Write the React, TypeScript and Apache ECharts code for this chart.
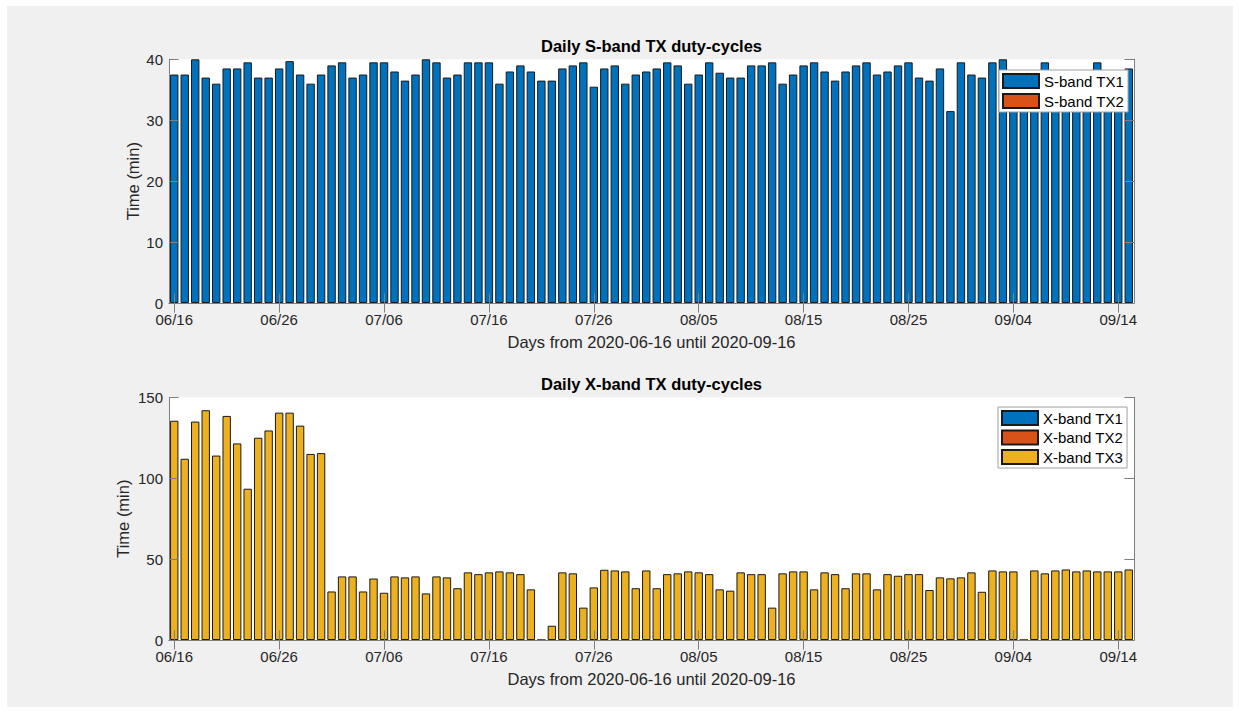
import React, { useEffect, useRef } from "react";
import * as echarts from "echarts";

// Day labels (2020-06-16 .. 2020-09-15, one bar per day)
const startDate = new Date(Date.UTC(2020, 5, 16));
const dayCount = 92;
const dayLabels: string[] = [];
for (let i = 0; i < dayCount; i++) {
  const d = new Date(startDate.getTime() + i * 86400000);
  const mm = String(d.getUTCMonth() + 1).padStart(2, "0");
  const dd = String(d.getUTCDate()).padStart(2, "0");
  dayLabels.push(`${mm}/${dd}`);
}

// S-band TX duty-cycles (min)
const sBandTx1 = [
  37.5, 37.5, 40, 37, 36, 38.5, 38.5, 39.5, 37, 37,
  38.5, 39.7, 37.5, 36, 37.5, 39, 39.5, 37, 37.5, 39.5,
  39.5, 38, 36.5, 37.5, 40, 39.5, 37, 37.5, 39.5, 39.5,
  39.5, 36, 38, 39, 38, 36.5, 36.5, 38.5, 39, 39.5,
  35.5, 38.5, 39, 36, 37.5, 38, 38.5, 39.5, 39, 36,
  37.5, 39.5, 37.8, 37, 37, 39, 39, 39.5, 36, 37.5,
  39, 39.5, 38, 36.5, 38, 39, 39.5, 37.5, 38, 39,
  39.5, 37, 36.5, 38.5, 31.5, 39.5, 37.5, 37, 39.5, 40,
  37.5, 37, 38, 39.5, 31.6, 37, 38, 37.5, 39.5, 37,
  38, 38.5,
];
const sBandTx2: number[] = [];

// X-band TX duty-cycles (min)
const xBandTx1: number[] = [];
const xBandTx2: number[] = [];
const xBandTx3 = [
  135.5, 112, 135, 142, 114, 138.5, 121.5, 93.5, 125, 129.5,
  140.5, 140.5, 132.5, 115, 115.5, 30, 39.3, 39.3, 30, 38,
  29.2, 39.3, 38.7, 39.3, 28.8, 39.3, 38.7, 32, 41.8, 40.7,
  41.8, 42.4, 41.8, 40.7, 31.3, 0, 8.8, 41.8, 41.2, 20,
  32.5, 43.4, 43, 42.4, 32, 43, 32, 40.7, 41.2, 42.4,
  41.8, 40.7, 31.3, 30.5, 41.8, 40.7, 40.7, 20, 41.2, 42.4,
  42.4, 31.3, 41.8, 40.7, 32, 41.2, 41.2, 31.3, 40.7, 39.7,
  40.7, 40.7, 30.9, 38.7, 38.1, 38.7, 41.8, 29.8, 43, 42.4,
  42.4, 0, 43, 41.2, 43, 43.6, 42.4, 43, 42.4, 42.4,
  42.4, 43.6,
];

const sBandNames = ["S-band TX1", "S-band TX2"];
const xBandNames = ["X-band TX1", "X-band TX2", "X-band TX3"];
const colors = ["#0072BD", "#D95319", "#EDB120"];

const FONT = '"Liberation Sans", Arial, Helvetica, sans-serif';
const AX = "#7f7f7f";
const TXT = "#262626";
const every10 = (i: number) => i % 10 === 0;

function xAxes(gridIndex: number) {
  return [
    {
      gridIndex,
      type: "category",
      data: dayLabels,
      position: "bottom",
      boundaryGap: true,
      z: 5,
      axisLine: { show: true, lineStyle: { color: AX, width: 1 } },
      axisTick: {
        show: true,
        inside: true,
        length: 9.6,
        alignWithLabel: true,
        interval: every10,
        lineStyle: { color: AX },
      },
      axisLabel: {
        interval: every10,
        fontSize: 15,
        color: TXT,
        margin: 9,
        fontFamily: FONT,
      },
      splitLine: { show: false },
      name: "Days from 2020-06-16 until 2020-09-16",
      nameLocation: "middle",
      nameGap: 30,
      nameMoveOverlap: false,
      nameTextStyle: { fontSize: 16.5, color: TXT, fontFamily: FONT },
    },
    {
      gridIndex,
      type: "category",
      data: dayLabels,
      position: "top",
      boundaryGap: true,
      z: 5,
      axisLine: { show: true, lineStyle: { color: AX, width: 1 } },
      axisTick: {
        show: true,
        inside: true,
        length: 9.6,
        alignWithLabel: true,
        interval: every10,
        lineStyle: { color: AX },
      },
      axisLabel: { show: false },
      splitLine: { show: false },
    },
  ];
}

function yAxes(gridIndex: number, max: number, interval: number, nameGap: number) {
  return [
    {
      gridIndex,
      type: "value",
      position: "left",
      min: 0,
      max,
      interval,
      z: 5,
      axisLine: { show: true, lineStyle: { color: AX, width: 1 } },
      axisTick: { show: true, inside: true, length: 9.6, lineStyle: { color: AX } },
      axisLabel: { fontSize: 15, color: TXT, margin: 6, fontFamily: FONT },
      splitLine: { show: false },
      name: "Time (min)",
      nameLocation: "middle",
      nameGap,
      nameMoveOverlap: false,
      nameTextStyle: { fontSize: 16.5, color: TXT, fontFamily: FONT },
    },
    {
      gridIndex,
      type: "value",
      position: "right",
      min: 0,
      max,
      interval,
      z: 5,
      axisLine: { show: true, lineStyle: { color: AX, width: 1 } },
      axisTick: { show: true, inside: true, length: 9.6, lineStyle: { color: AX } },
      axisLabel: { show: false },
      splitLine: { show: false },
    },
  ];
}

function barSeries(name: string, data: number[], color: string, axisIndex: number, stack: string) {
  return {
    name,
    type: "bar",
    stack,
    xAxisIndex: axisIndex,
    yAxisIndex: axisIndex,
    data,
    barWidth: "80%",
    itemStyle: { color, borderColor: "#1a1a1a", borderWidth: 1 },
    emphasis: { disabled: true },
  };
}

function legendFor(names: string[], left: number, top: number, gap: number) {
  return {
    data: names,
    orient: "vertical",
    left,
    top,
    padding: [3, 4, 3, 3],
    itemWidth: 36,
    itemHeight: 14,
    itemGap: gap,
    icon: "rect",
    selectedMode: false,
    backgroundColor: "#ffffff",
    borderColor: "#a0a0a0",
    borderWidth: 1,
    textStyle: { fontSize: 15, color: "#000", fontFamily: FONT },
  };
}

export default function App() {
  const ref = useRef<HTMLDivElement>(null);

  useEffect(() => {
    if (!ref.current) return;
    const chart = echarts.init(ref.current, undefined, { renderer: "svg" });
    chart.setOption({
      animation: false,
      backgroundColor: "#f0f0f0",
      textStyle: { fontFamily: FONT },
      graphic: [
        {
          type: "text",
          x: 644.5,
          y: 40,
          style: {
            text: "Daily S-band TX duty-cycles",
            align: "center",
            verticalAlign: "middle",
            font: `bold 16.5px ${FONT}`,
            fill: "#000",
          },
        },
        {
          type: "text",
          x: 644.5,
          y: 377.5,
          style: {
            text: "Daily X-band TX duty-cycles",
            align: "center",
            verticalAlign: "middle",
            font: `bold 16.5px ${FONT}`,
            fill: "#000",
          },
        },
      ],
      grid: [
        { left: 162, top: 53.3, width: 965, height: 243.7, show: true, backgroundColor: "#fff", borderWidth: 0 },
        { left: 162, top: 391.3, width: 965, height: 242.7, show: true, backgroundColor: "#fff", borderWidth: 0 },
      ],
      xAxis: [...xAxes(0), ...xAxes(1)],
      yAxis: [...yAxes(0, 40, 10, 28), ...yAxes(1, 150, 50, 37.5)],
      legend: [
        legendFor(sBandNames, 992, 64, 4),
        legendFor(xBandNames, 991, 401, 3.5),
      ],
      series: [
        barSeries(sBandNames[0], sBandTx1, colors[0], 0, "s"),
        barSeries(sBandNames[1], sBandTx2, colors[1], 0, "s"),
        barSeries(xBandNames[0], xBandTx1, colors[0], 2, "x"),
        barSeries(xBandNames[1], xBandTx2, colors[1], 2, "x"),
        barSeries(xBandNames[2], xBandTx3, colors[2], 2, "x"),
      ],
    });
    return () => chart.dispose();
  }, []);

  return (
    <div
      ref={ref}
      style={{ position: "absolute", left: 7, top: 6, width: 1226, height: 701 }}
    />
  );
}
